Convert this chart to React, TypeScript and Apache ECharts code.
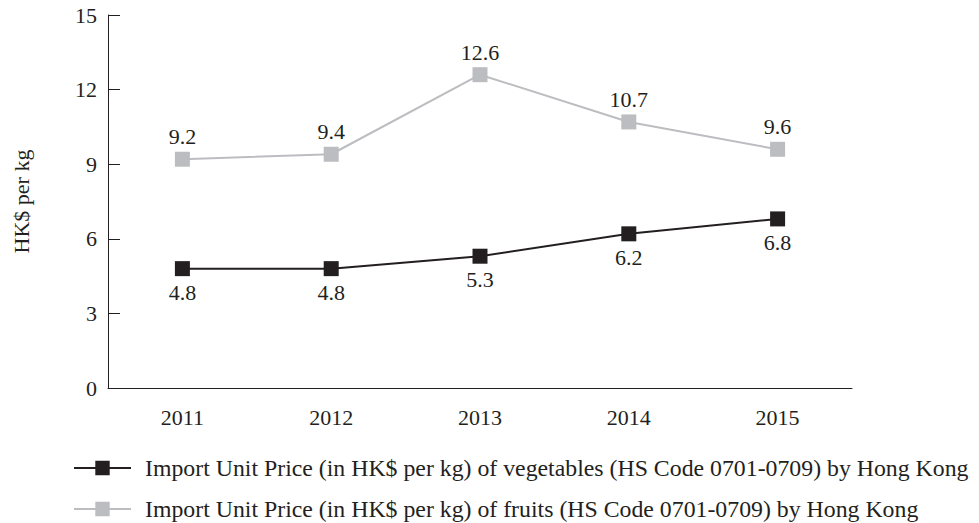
import React, { useEffect, useRef } from "react";
import * as echarts from "echarts";

const years = ["2011", "2012", "2013", "2014", "2015"];
const vegetables = [4.8, 4.8, 5.3, 6.2, 6.8];
const fruits = [9.2, 9.4, 12.6, 10.7, 9.6];
const vegName = "Import Unit Price (in HK$ per kg) of vegetables (HS Code 0701-0709) by Hong Kong";
const fruitName = "Import Unit Price (in HK$ per kg) of fruits (HS Code 0701-0709) by Hong Kong";

const FONT = "'Liberation Serif', 'Times New Roman', serif";
const INK = "#231f20";
const GREY = "#bcbdc0";

export default function App() {
  const ref = useRef<HTMLDivElement>(null);
  useEffect(() => {
    if (!ref.current) return;
    const chart = echarts.init(ref.current, undefined, { renderer: "svg" });
    chart.setOption({
      animation: false,
      textStyle: { fontFamily: FONT },
      grid: { left: 108, right: 127, top: 15, bottom: 135 },
      legend: {
        orient: "vertical",
        left: 73,
        top: 456,
        padding: 0,
        height: 70,
        itemWidth: 57,
        itemHeight: 18,
        itemGap: 17,
        textStyle: { fontFamily: FONT, fontSize: 23.8, lineHeight: 24, color: INK, padding: [0, 0, 0, 9] },
        data: [vegName, fruitName],
      },
      xAxis: {
        type: "category",
        data: years,
        boundaryGap: true,
        axisLine: { lineStyle: { color: INK, width: 1 } },
        axisTick: { inside: true, length: 10, lineStyle: { color: INK } },
        axisLabel: { color: INK, fontSize: 22, fontFamily: FONT, margin: 18 },
        splitLine: { show: false },
      },
      yAxis: {
        type: "value",
        min: 0,
        max: 15,
        interval: 3,
        name: "HK$ per kg",
        nameLocation: "middle",
        nameGap: 76,
        nameTextStyle: { color: INK, fontSize: 22, fontFamily: FONT },
        axisLine: { show: true, lineStyle: { color: INK, width: 1 } },
        axisTick: { show: true, inside: true, length: 12, lineStyle: { color: INK } },
        axisLabel: { color: INK, fontSize: 22, fontFamily: FONT, margin: 11 },
        splitLine: { show: false },
      },
      series: [
        {
          name: vegName,
          type: "line",
          data: vegetables,
          symbol: "rect",
          symbolSize: 15,
          itemStyle: { color: INK },
          lineStyle: { color: INK, width: 2 },
          label: {
            show: true,
            position: "bottom",
            distance: 5,
            fontSize: 22,
            fontFamily: FONT,
            color: INK,
            formatter: (p: any) => p.value.toFixed(1),
          },
        },
        {
          name: fruitName,
          type: "line",
          data: fruits,
          symbol: "rect",
          symbolSize: 15,
          itemStyle: { color: GREY },
          lineStyle: { color: GREY, width: 2 },
          label: {
            show: true,
            position: "top",
            distance: 4,
            fontSize: 22,
            fontFamily: FONT,
            color: INK,
            formatter: (p: any) => p.value.toFixed(1),
          },
        },
      ],
    });
    return () => chart.dispose();
  }, []);
  return <div ref={ref} style={{ width: 979, height: 523, position: "absolute", left: 0, top: 0 }} />;
}
